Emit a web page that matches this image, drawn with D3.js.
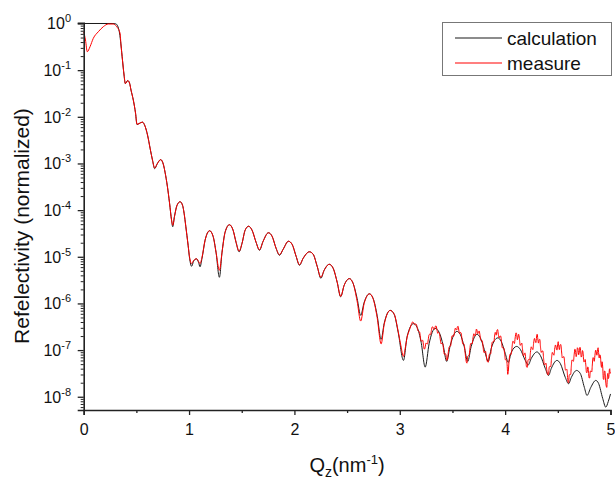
<!DOCTYPE html>
<html><head><meta charset="utf-8">
<script src="https://cdn.jsdelivr.net/npm/d3@7"></script>
<style>
html,body{margin:0;padding:0;background:#fff;}
svg{display:block;font-family:"Liberation Sans",Arial,sans-serif;}
</style></head>
<body>
<svg id="chart" width="615" height="479"></svg>
<script>
// ---- data (Q in nm^-1, reflectivity as log10 values) ----
const calcQ = [0,0.155,0.269,0.307,0.326,0.340,0.354,0.368,0.383,0.395,0.418,0.435,0.449,0.471,0.492,0.506,0.525,0.557,0.582,0.606,0.630,0.653,0.674,0.696,0.731,0.758,0.772,0.794,0.815,0.834,0.845,0.862,0.886,0.915,0.938,0.953,0.969,0.991,1.005,1.024,1.043,1.071,1.090,1.104,1.123,1.152,1.195,1.228,1.256,1.288,1.313,1.342,1.383,1.418,1.446,1.475,1.503,1.532,1.565,1.598,1.636,1.668,1.703,1.753,1.788,1.826,1.858,1.893,1.943,1.978,2.016,2.048,2.083,2.142,2.178,2.216,2.251,2.282,2.331,2.368,2.406,2.439,2.472,2.522,2.557,2.595,2.629,2.662,2.712,2.747,2.785,2.823,2.852,2.909,2.947,2.985,3.035,3.070,3.130,3.165,3.203,3.241,3.279,3.336,3.374,3.412,3.445,3.479,3.542,3.574,3.611,3.645,3.678,3.732,3.763,3.802,3.840,3.868,3.930,3.963,4.001,4.030,4.058,4.110,4.144,4.191,4.219,4.248,4.302,4.334,4.381,4.412,4.438,4.492,4.523,4.571,4.602,4.628,4.678,4.713,4.752,4.777,4.813,4.860,4.887,4.926,4.955,4.979,5.000];
const calcLog = [0,0,0,-0.011,-0.075,-0.204,-0.461,-0.783,-1.105,-1.288,-1.223,-1.277,-1.427,-1.642,-1.921,-2.167,-2.146,-2.114,-2.200,-2.393,-2.672,-2.929,-3.112,-3.015,-2.918,-3.036,-3.187,-3.487,-3.852,-4.217,-4.356,-4.131,-3.895,-3.820,-3.895,-4.067,-4.346,-4.753,-5.032,-5.204,-5.097,-5.043,-5.118,-5.215,-5.032,-4.646,-4.442,-4.560,-4.903,-5.440,-4.903,-4.474,-4.313,-4.431,-4.689,-4.893,-4.710,-4.431,-4.346,-4.431,-4.689,-4.861,-4.667,-4.485,-4.560,-4.818,-4.968,-4.839,-4.667,-4.732,-4.989,-5.182,-5.032,-4.893,-4.946,-5.204,-5.461,-5.290,-5.161,-5.247,-5.547,-5.858,-5.612,-5.468,-5.569,-5.891,-6.255,-5.976,-5.794,-5.891,-6.255,-6.770,-6.427,-6.148,-6.234,-6.620,-7.221,-6.706,-6.433,-6.513,-6.835,-7.365,-6.856,-6.535,-6.620,-6.899,-7.242,-6.899,-6.599,-6.663,-6.921,-7.242,-6.921,-6.663,-6.727,-6.985,-7.242,-6.963,-6.738,-6.813,-7.070,-7.264,-7.049,-6.921,-6.985,-7.221,-7.318,-7.178,-7.039,-7.114,-7.393,-7.543,-7.393,-7.221,-7.285,-7.586,-7.721,-7.586,-7.436,-7.500,-7.800,-7.972,-7.800,-7.650,-7.715,-8.036,-8.223,-8.101,-7.940];

const measQ = [0,0.017,0.034,0.060,0.091,0.139,0.186,0.234,0.281,0.313,0.345,0.354,0.368,0.383,0.395,0.418,0.435,0.449,0.471,0.492,0.506,0.525,0.557,0.582,0.606,0.630,0.653,0.674,0.696,0.731,0.758,0.772,0.794,0.815,0.834,0.845,0.862,0.886,0.915,0.938,0.953,0.969,0.991,1.005,1.024,1.043,1.071,1.090,1.104,1.123,1.152,1.195,1.228,1.256,1.288,1.313,1.342,1.383,1.418,1.446,1.475,1.503,1.532,1.565,1.598,1.636,1.668,1.703,1.753,1.788,1.826,1.858,1.893,1.943,1.978,2.016,2.048,2.083,2.142,2.178,2.216,2.251,2.282,2.331,2.368,2.406,2.439,2.472,2.522,2.557,2.595,2.629,2.662,2.712,2.747,2.785,2.823,2.852,2.909,2.947,
2.985,3.010,3.035,3.050,3.070,3.090,3.110,3.120,3.130,3.140,3.150,3.158,3.165,3.173,3.180,3.188,3.195,3.203,3.210,3.218,3.225,3.233,3.241,3.248,3.255,3.263,3.270,3.278,3.285,3.293,3.300,3.309,3.318,3.327,3.336,3.344,3.352,3.360,3.368,3.377,3.385,3.393,3.400,3.408,3.415,3.423,3.430,3.438,3.445,3.453,3.460,3.468,3.475,3.483,3.490,3.498,3.505,3.513,3.520,3.528,3.535,3.541,3.547,3.554,3.560,3.568,3.575,3.583,3.590,3.598,3.605,3.613,3.620,3.628,3.637,3.644,3.650,3.658,3.665,3.673,3.680,3.688,3.695,3.703,3.710,3.716,3.722,3.727,3.732,3.739,3.745,3.753,3.760,3.768,3.775,3.783,3.790,3.798,3.805,3.813,3.820,3.830,3.840,3.848,3.855,3.863,3.870,3.878,3.885,3.893,3.900,3.906,3.912,3.917,3.922,3.929,3.935,3.943,3.950,3.958,3.965,3.973,3.980,3.988,3.995,4.003,4.010,4.018,4.025,4.030,4.035,4.043,4.050,4.058,4.065,4.073,4.080,4.088,4.095,4.103,4.110,4.116,4.122,4.128,4.135,4.143,4.150,4.158,4.165,4.173,4.180,4.188,4.195,4.203,4.210,4.218,4.225,4.233,4.240,4.248,4.255,4.263,4.270,4.278,4.285,4.292,4.298,4.304,4.310,4.316,4.322,4.329,4.335,4.343,4.350,4.358,4.365,4.373,4.380,4.388,4.395,4.404,4.412,4.419,4.425,4.433,4.440,4.448,4.455,4.463,4.470,4.478,4.485,4.492,4.498,4.504,4.509,4.515,4.520,4.528,4.535,4.543,4.550,4.558,4.565,4.573,4.580,4.586,4.592,4.597,4.602,4.609,4.615,4.622,4.628,4.634,4.640,4.648,4.655,4.662,4.668,4.674,4.680,4.686,4.692,4.698,4.704,4.710,4.716,4.722,4.728,4.734,4.740,4.746,4.752,4.759,4.765,4.772,4.778,4.784,4.790,4.796,4.802,4.809,4.815,4.822,4.828,4.834,4.840,4.846,4.852,4.859,4.865,4.871,4.877,4.882,4.887,4.893,4.898,4.904,4.910,4.915,4.920,4.926,4.932,4.937,4.942,4.947,4.952,4.958,4.965,4.970,4.975,4.980,4.985,4.989,4.993,4.996,5.000];
const measLog = [-0.176,-0.354,-0.605,-0.498,-0.318,-0.176,-0.069,-0.011,-0.011,-0.069,-0.210,-0.461,-0.783,-1.105,-1.288,-1.223,-1.277,-1.427,-1.642,-1.921,-2.160,-2.146,-2.114,-2.200,-2.393,-2.672,-2.929,-3.100,-3.015,-2.918,-3.036,-3.187,-3.487,-3.852,-4.217,-4.324,-4.131,-3.895,-3.820,-3.895,-4.067,-4.346,-4.753,-5.010,-5.146,-5.080,-5.043,-5.100,-5.146,-5.010,-4.646,-4.442,-4.560,-4.903,-5.290,-4.903,-4.474,-4.313,-4.431,-4.689,-4.880,-4.710,-4.431,-4.346,-4.431,-4.689,-4.850,-4.667,-4.485,-4.560,-4.818,-4.955,-4.839,-4.667,-4.732,-4.989,-5.170,-5.032,-4.893,-4.946,-5.204,-5.440,-5.290,-5.161,-5.247,-5.547,-5.850,-5.612,-5.468,-5.569,-5.950,-6.378,-6.000,-5.794,-5.900,-6.300,-6.867,-6.450,-6.150,-6.230,
-6.600,-6.900,-7.135,-6.980,-6.720,-6.580,-6.450,-6.400,-6.410,-6.455,-6.440,-6.450,-6.520,-6.590,-6.600,-6.610,-6.720,-6.810,-6.800,-6.790,-6.900,-6.980,-6.940,-6.850,-6.860,-6.870,-6.780,-6.670,-6.660,-6.670,-6.580,-6.500,-6.520,-6.560,-6.500,-6.480,-6.550,-6.640,-6.620,-6.650,-6.780,-6.870,-6.850,-6.860,-6.980,-7.090,-7.080,-7.090,-7.220,-7.190,-7.060,-6.940,-6.920,-6.910,-6.780,-6.690,-6.700,-6.700,-6.600,-6.530,-6.560,-6.570,-6.500,-6.490,-6.570,-6.650,-6.620,-6.640,-6.760,-6.870,-6.860,-6.900,-7.050,-7.210,-7.280,-7.140,-7.120,-7.110,-6.980,-6.860,-6.860,-6.860,-6.740,-6.650,-6.680,-6.700,-6.620,-6.550,-6.570,-6.650,-6.630,-6.590,-6.660,-6.790,-6.800,-6.800,-6.920,-7.050,-7.050,-7.020,-7.100,-7.240,-7.260,-7.110,-7.080,-7.080,-6.950,-6.830,-6.820,-6.820,-6.700,-6.620,-6.660,-6.680,-6.580,-6.560,-6.660,-6.740,-6.700,-6.700,-6.820,-6.950,-6.950,-6.960,-7.080,-7.210,-7.200,-7.290,-7.520,-7.460,-7.300,-7.120,-7.080,-7.090,-6.950,-6.810,-6.820,-6.860,-6.740,-6.630,-6.670,-6.780,-6.720,-6.660,-6.750,-6.900,-6.880,-6.850,-6.980,-7.120,-7.100,-7.060,-7.180,-7.360,-7.370,-7.210,-7.200,-7.210,-7.050,-6.930,-6.960,-6.990,-6.860,-6.750,-6.800,-6.840,-6.720,-6.660,-6.760,-6.850,-6.780,-6.770,-6.920,-7.050,-7.020,-7.020,-7.180,-7.320,-7.300,-7.280,-7.420,-7.530,-7.520,-7.360,-7.350,-7.350,-7.180,-7.050,-7.080,-7.110,-6.980,-6.890,-6.950,-7.000,-6.880,-6.820,-6.920,-6.990,-6.900,-6.880,-7.020,-7.170,-7.150,-7.140,-7.280,-7.430,-7.420,-7.410,-7.550,-7.690,-7.700,-7.530,-7.520,-7.520,-7.350,-7.210,-7.220,-7.240,-7.100,-6.980,-7.020,-7.140,-7.080,-6.950,-6.980,-7.100,-7.040,-6.940,-7.000,-7.150,-7.120,-7.010,-7.060,-7.250,-7.250,-7.200,-7.300,-7.480,-7.480,-7.360,-7.400,-7.590,-7.600,-7.450,-7.450,-7.470,-7.300,-7.160,-7.180,-7.240,-7.120,-7.000,-7.040,-7.110,-7.000,-6.950,-7.050,-7.170,-7.100,-7.120,-7.300,-7.370,-7.250,-7.360,-7.620,-7.630,-7.450,-7.450,-7.600,-7.750,-7.800,-7.570,-7.500,-7.610,-7.560,-7.420,-7.400,-7.500,-7.480];

const xMajorTicks = [0,1,2,3,4,5];
const xMinorTicks = [0.5,1.5,2.5,3.5,4.5];
const yExponents = [0,-1,-2,-3,-4,-5,-6,-7,-8];
const seriesNames = ["calculation","measure"];
const seriesColors = ["#1a1a1a","#ff0000"];

if (calcQ.length !== calcLog.length) throw new Error("calc length mismatch " + calcQ.length + " vs " + calcLog.length);
if (measQ.length !== measLog.length) throw new Error("meas length mismatch " + measQ.length + " vs " + measLog.length);

// ---- chart ----
const svg = d3.select("#chart");
const x = d3.scaleLinear().domain([0,5]).range([83.7,610.5]);
const y = d3.scaleLog().domain([5.2e-9,1.04]).range([410,22.7]);

const calcData = calcQ.map((q,i)=>({q, r: Math.pow(10, calcLog[i])}));
const measData = measQ.map((q,i)=>({q, r: Math.pow(10, measLog[i])}));

const line = d3.line().x(d=>x(d.q)).y(d=>y(d.r)).curve(d3.curveMonotoneX);

svg.append("path").datum(calcData).attr("d",line)
  .attr("fill","none").attr("stroke",seriesColors[0]).attr("stroke-width",1);
svg.append("path").datum(measData).attr("d",line)
  .attr("fill","none").attr("stroke",seriesColors[1]).attr("stroke-width",1);

// x axis
const xAxisG = svg.append("g").attr("transform","translate(0,410)");
xAxisG.call(d3.axisBottom(x).tickValues(xMajorTicks).tickSize(5).tickFormat(d3.format("d")));
xAxisG.select(".domain").attr("stroke","#222").attr("stroke-width",1.6);
xAxisG.selectAll(".tick line").attr("stroke","#222").attr("stroke-width",1.3);
xAxisG.selectAll(".tick text").attr("font-family","Liberation Sans, Arial, sans-serif")
  .attr("font-size",16).attr("fill","#111").attr("dy","1.05em");
const xMinorG = svg.append("g").attr("transform","translate(0,410)");
xMinorG.call(d3.axisBottom(x).tickValues(xMinorTicks).tickSize(3).tickFormat(""));
xMinorG.select(".domain").remove();
xMinorG.selectAll(".tick line").attr("stroke","#222").attr("stroke-width",1.3);

// y axis
const yMajorVals = yExponents.map(e=>Math.pow(10,e));
const yMinorVals = [];
for (let e=-9; e<0; e++) for (let m=2; m<=9; m++) {
  const v = m*Math.pow(10,e);
  if (v>=y.domain()[0] && v<=y.domain()[1]) yMinorVals.push(v);
}
const yAxisG = svg.append("g").attr("transform","translate(83.7,0)");
yAxisG.call(d3.axisLeft(y).tickValues(yMajorVals).tickSize(6).tickFormat(""));
yAxisG.select(".domain").attr("stroke","#222").attr("stroke-width",1.6);
yAxisG.selectAll(".tick line").attr("stroke","#222").attr("stroke-width",1.3);
const yMinorG = svg.append("g").attr("transform","translate(83.7,0)");
yMinorG.call(d3.axisLeft(y).tickValues(yMinorVals).tickSize(3).tickFormat(""));
yMinorG.select(".domain").remove();
yMinorG.selectAll(".tick line").attr("stroke","#222").attr("stroke-width",1);

const yLab = svg.append("g").selectAll("text").data(yExponents).join("text")
  .attr("x",71).attr("y",e=>y(Math.pow(10,e))+6)
  .attr("text-anchor","end").attr("font-size",16).attr("fill","#111");
yLab.append("tspan").text("10");
yLab.append("tspan").attr("dy",-7).attr("font-size",11).text(e=>String(e));

// axis titles
const xt = svg.append("text").attr("x",347).attr("y",472).attr("text-anchor","middle")
  .attr("font-size",20).attr("fill","#111");
xt.append("tspan").text("Q");
xt.append("tspan").attr("dy",5).attr("font-size",14).text("z");
xt.append("tspan").attr("dy",-5).text("(nm");
xt.append("tspan").attr("dy",-8).attr("font-size",13).text("-1");
xt.append("tspan").attr("dy",8).text(")");

svg.append("text").attr("transform","translate(29,226) rotate(-90)")
  .attr("text-anchor","middle").attr("font-size",21).attr("fill","#111")
  .text("Refelectivity (normalized)");

// legend
const lg = svg.append("g");
lg.append("rect").attr("x",442.5).attr("y",22.5).attr("width",169).attr("height",53)
  .attr("fill","#fff").attr("stroke","#777").attr("stroke-width",1);
seriesNames.forEach((name,i)=>{
  const ly = 38 + i*25;
  lg.append("line").attr("x1",455).attr("x2",502).attr("y1",ly).attr("y2",ly)
    .attr("stroke",seriesColors[i]).attr("stroke-width",1.2);
  lg.append("text").attr("x",507).attr("y",ly+7).attr("font-size",19).attr("fill","#111").text(name);
});
</script>
</body></html>
